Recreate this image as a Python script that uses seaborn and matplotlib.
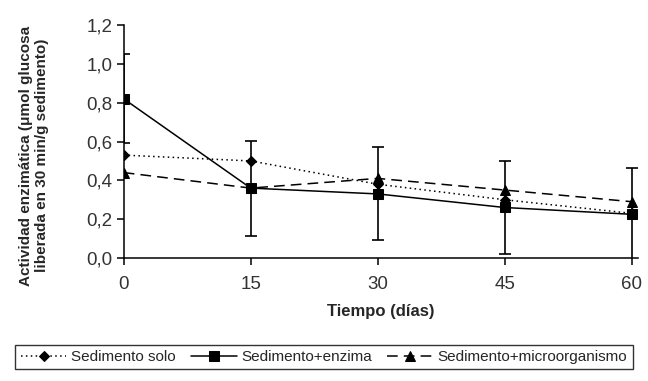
import matplotlib
matplotlib.use("Agg")
import matplotlib.pyplot as plt
import seaborn as sns
import pandas as pd

dias = [0, 15, 30, 45, 60]
solo = [0.53, 0.50, 0.38, 0.30, 0.23]
enzima = [0.82, 0.36, 0.33, 0.26, 0.225]
enzima_err = [0.23, 0.245, 0.24, 0.24, 0.24]
micro = [0.44, 0.36, 0.41, 0.35, 0.29]
series_names = ["Sedimento solo", "Sedimento+enzima", "Sedimento+microorganismo"]
yticks = [0.0, 0.2, 0.4, 0.6, 0.8, 1.0, 1.2]
ytick_labels = ["0,0", "0,2", "0,4", "0,6", "0,8", "1,0", "1,2"]
xticks = [0, 15, 30, 45, 60]

sns.set_theme(style="ticks")
plt.rcParams["font.family"] = ["Liberation Sans", "DejaVu Sans"]

fig = plt.figure(figsize=(6.48, 3.81), dpi=100)
ax = fig.add_axes([0.191, 0.323, 0.794, 0.611])

styles = [
    dict(ls=(0, (1, 2.2)), marker="D", ms=5.5),
    dict(ls="-", marker="s", ms=6.5),
    dict(ls=(0, (7, 4)), marker="^", ms=7.5),
]
for name, vals, st in zip(series_names, [solo, enzima, micro], styles):
    df = pd.DataFrame({"x": dias, "y": vals})
    sns.lineplot(data=df, x="x", y="y", ax=ax, color="black", lw=1.1,
                 linestyle=st["ls"], marker=st["marker"], markersize=st["ms"],
                 markeredgecolor="black", label=name)

ax.errorbar(dias, enzima, yerr=enzima_err, fmt="none", ecolor="black",
            elinewidth=1.2, capsize=4.5, capthick=1.2)

ax.set_xlim(0, 60.8)
ax.set_ylim(0, 1.2)
ax.set_xticks(xticks)
ax.set_yticks(yticks)
ax.set_yticklabels(ytick_labels)
ax.tick_params(axis="both", labelsize=13.5, colors="black", labelcolor="#333333",
               length=5, width=1.1)
ax.tick_params(axis="x", pad=8)
ax.tick_params(axis="y", pad=3)
for s in ["top", "right"]:
    ax.spines[s].set_visible(False)
for s in ["left", "bottom"]:
    ax.spines[s].set_linewidth(1.1)
    ax.spines[s].set_color("black")
ax.set_xlabel("Tiempo (días)", fontsize=12, fontweight="bold")
ax.xaxis.set_label_coords(0.5, -0.2)
ax.set_ylabel("Actividad enzimática (μmol glucosa\nliberada en 30 min/g sedimento)",
              fontsize=11, fontweight="bold", linespacing=1.2)
ax.yaxis.set_label_coords(-0.145, 0.44)

ax.legend_.remove()
h, l = ax.get_legend_handles_labels()
leg = fig.legend(h, l, loc="center", bbox_to_anchor=(0.5, 0.063), ncol=3,
                 frameon=True, fancybox=False, edgecolor="black", fontsize=11,
                 handlelength=3.0, handletextpad=0.3, columnspacing=1.0,
                 borderpad=0.35)
leg.get_frame().set_linewidth(1.0)

fig.savefig("out.png", dpi=100)
